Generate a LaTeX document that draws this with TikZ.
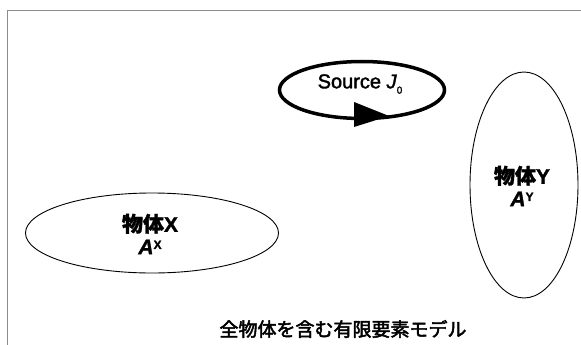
\documentclass[tikz,border=0pt]{standalone}
\usepackage{fontspec}
\setmainfont{Liberation Sans}
\newfontfamily\srcfont[FakeBold=1.8]{Liberation Sans}
\newfontfamily\lblfont[FakeBold=1.5]{Liberation Sans}
\newfontfamily\cjk[FakeBold=1.5]{Noto Sans CJK JP}
\newfontfamily\cjkm[FakeBold=2.5]{Noto Sans CJK JP}
\usetikzlibrary{shapes.geometric}
\tikzset{
  body/.style={ellipse, draw=black, line width=0.9pt, inner sep=0pt, align=center},
  srcbox/.style={ellipse, draw=black, line width=3.5pt, inner sep=0pt},
  framel/.style={draw=black!45, line width=0.8pt},
  lbl/.style={align=center, inner sep=0pt},
}
\newcommand{\bodylabel}[1]{{\cjk\bfseries\fontsize{21}{24}\selectfont 物体}{\lblfont\bfseries\fontsize{21}{24}\selectfont #1}\\[5pt]
{\lblfont\bfseries\itshape\fontsize{21}{22}\selectfont A}\raisebox{1.0ex}{\lblfont\bfseries\fontsize{12}{13}\selectfont #1}}
\begin{document}
\begin{tikzpicture}[x=1pt,y=-1pt]
\useasboundingbox (0,0) rectangle (581,345);
% frame
\coordinate (fa) at (7,345);
\coordinate (fb) at (7,10);
\coordinate (fc) at (581,10);
\draw[framel] (fa) -- (fb) -- (fc);
% source
\node[srcbox, minimum width=165pt, minimum height=57pt] (src) at (362,90) {};
\node (srct) at (360,84) {\srcfont\fontsize{20}{22}\selectfont Source \textit{J}\raisebox{-0.5ex}{\fontsize{10}{11}\selectfont 0}};
\fill (354,102) -- (354,127) -- (389,116) -- cycle;
% body X
\node[body, minimum width=253pt, minimum height=80pt] (bx) at (152,233) {};
\node[lbl] (bxt) at (150,234) {\bodylabel{X}};
% body Y
\node[body, minimum width=108pt, minimum height=226pt] (by) at (524,185) {};
\node[lbl] (byt) at (522,186) {\bodylabel{Y}};
% caption
\node (cap) at (343,329) {\cjkm\fontsize{19}{22}\selectfont 全物体を含む有限要素モデル};
\end{tikzpicture}
\end{document}
